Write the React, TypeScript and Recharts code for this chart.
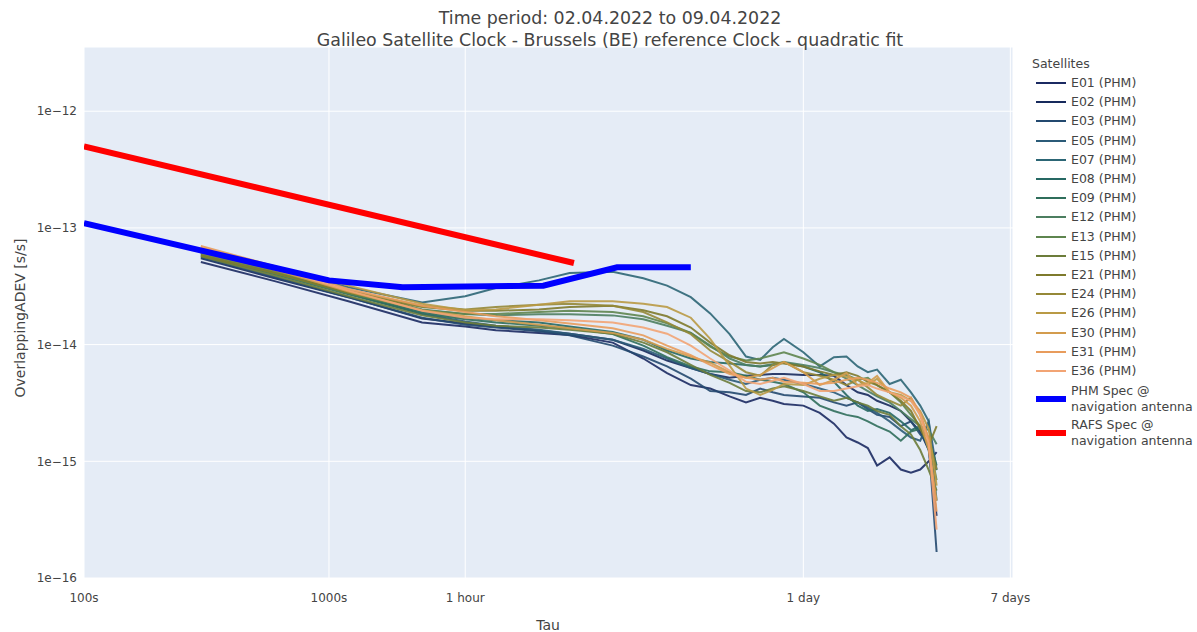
import React from 'react';
import { LineChart, Line, XAxis, YAxis, CartesianGrid } from 'recharts';

// averaging times (s) shared by all satellite curves
const TAU = [
  300, 600, 1200, 2400, 3600, 4800, 7200, 9600, 14400, 19200, 24000, 30000, 36000, 43200, 50400, 57600,
  64800, 72000, 86400, 100800, 115200, 129600, 144000, 158400, 172800, 194400, 216000, 237600, 259200,
  280800, 302400,
];

// ADEV values in units of 1e-15
const E01 = [51, 35, 23.5, 15.5, 14.3, 13.3, 12.6, 12.1, 10.4, 7.6, 5.7, 4.5, 4.2, 3.6, 3.2, 3.5, 3.3, 3.1, 3.0, 2.6, 2.1, 1.6, 1.45, 1.3, 0.92, 1.08, 0.85, 0.8, 0.85, 1.0, 1.2];
const E02 = [55, 37, 25.5, 16.7, 15.2, 14.3, 13.2, 12.4, 11, 8.9, 7.3, 6.3, 5.6, 5.2, 5.4, 5.5, 5.6, 5.6, 5.5, 5.5, 5.4, 4.5, 3.9, 3.7, 3.3, 3.0, 2.7, 2.2, 1.8, 1.25, 0.34];
const E03 = [56, 38, 25.5, 17, 14.8, 14, 13, 12, 9.8, 7.9, 6.5, 5.1, 4.0, 3.9, 3.7, 4.2, 3.9, 3.7, 3.6, 3.5, 3.2, 3.0, 3.2, 2.8, 2.5, 2.4, 2.0, 2.2, 1.7, 1.4, 0.167];
const E05 = [61, 42, 27.5, 18.3, 15.8, 14.5, 13.4, 12.4, 11, 9.2, 7.6, 6.3, 5.6, 5.0, 4.6, 5.0, 5.2, 5.0, 4.6, 4.2, 3.9, 3.5, 3.2, 2.9, 2.6, 2.2, 1.85, 1.6, 1.5, 2.2, 0.85];
const E07 = [65, 45, 31, 23, 26, 30.5, 35.5, 41, 42, 37, 32, 25.5, 18.5, 12.3, 7.9, 7.4, 9.5, 11.2, 8.6, 6.5, 7.8, 7.9, 6.5, 5.8, 6.1, 4.6, 5.0, 3.9, 3.0, 2.2, 0.46];
const E08 = [63, 42, 28, 19, 16.9, 16.2, 15.5, 14.3, 12.8, 11, 8.9, 7.6, 7.1, 6.9, 6.7, 6.5, 6.7, 7.0, 6.5, 5.8, 4.8, 3.7, 3.0, 2.7, 2.8, 2.6, 2.2, 1.85, 2.0, 1.25, 0.84];
const E09 = [58, 40, 27, 18.5, 16.5, 15.5, 14.5, 13.8, 12.3, 9.8, 7.8, 6.5, 5.9, 5.8, 5.4, 5.0, 4.8, 4.6, 3.9, 3.0, 2.7, 2.5, 2.4, 2.2, 2.0, 1.8, 1.5, 1.8, 1.9, 1.6, 0.92];
const E12 = [60, 42, 29, 20, 18.3, 17.8, 18.2, 18.2, 17.8, 16.5, 14.5, 12.6, 9.8, 7.6, 6.7, 6.5, 6.8, 7.1, 6.7, 6.3, 5.8, 5.1, 4.5, 4.0, 3.6, 3.2, 2.7, 2.3, 2.0, 1.85, 1.4];
const E13 = [59, 41, 27.5, 19.7, 18.3, 18.3, 19, 19.5, 19, 17.5, 15.2, 12.6, 9.6, 7.9, 7.3, 7.6, 8.1, 8.6, 7.6, 6.7, 5.8, 5.5, 5.0, 5.2, 4.5, 3.9, 3.2, 2.5, 2.0, 1.55, 0.69];
const E15 = [57, 39, 26, 17.8, 15.5, 14.5, 14, 13.4, 12.4, 10.4, 8.6, 6.7, 5.5, 4.7, 4.0, 3.9, 4.2, 4.4, 4.0, 3.6, 3.3, 3.5, 3.2, 3.0, 2.7, 2.5, 2.0, 1.7, 1.25, 0.84, 0.56];
const E21 = [58, 41, 28, 21, 19.5, 19.5, 20, 21, 21.5, 19.7, 17.5, 14, 10.4, 8.1, 7.1, 6.9, 7.1, 6.9, 6.5, 5.9, 5.5, 5.8, 5.4, 4.8, 4.5, 3.9, 3.3, 2.7, 1.9, 1.37, 2.0];
const E24 = [61, 43, 29, 21.5, 20, 21, 22, 22.4, 21.5, 19, 15.5, 12.3, 8.9, 7.1, 5.8, 5.4, 6.7, 7.1, 5.8, 5.4, 5.0, 4.5, 5.0, 4.3, 3.7, 3.3, 3.0, 3.5, 2.5, 1.55, 0.85];
const E26 = [68, 47, 32, 22.4, 19.7, 20, 22, 23.5, 23.5, 22.4, 21, 17, 11.2, 6.6, 4.2, 3.7, 4.1, 4.6, 4.5, 5.1, 5.5, 5.3, 5.0, 4.5, 5.1, 3.9, 3.7, 3.3, 2.7, 1.9, 0.62];
const E30 = [66, 44, 28.5, 19.7, 17.5, 16.2, 14.8, 13.8, 12.6, 11, 9.2, 7.9, 7.0, 5.8, 5.2, 5.5, 6.3, 7.1, 5.8, 4.5, 5.0, 5.7, 4.5, 4.7, 5.4, 3.9, 3.5, 3.0, 2.2, 1.25, 0.46];
const E31 = [70, 47, 30, 21.5, 19, 17.5, 16.2, 15.2, 13.8, 12, 9.8, 8.1, 6.7, 5.6, 5.2, 5.0, 5.2, 4.8, 4.7, 4.6, 4.7, 5.0, 5.2, 5.0, 4.7, 4.2, 3.9, 3.5, 2.6, 1.55, 0.37];
const E36 = [68, 45, 29, 19.5, 17, 16.5, 16.5, 16.2, 15.5, 14, 12.4, 9.8, 7.6, 6.0, 4.8, 4.6, 4.9, 5.2, 4.6, 4.0, 4.0, 4.2, 4.4, 4.5, 4.2, 3.9, 3.6, 3.3, 2.5, 1.4, 0.26];

const SATELLITES = ['E01', 'E02', 'E03', 'E05', 'E07', 'E08', 'E09', 'E12', 'E13', 'E15', 'E21', 'E24', 'E26', 'E30', 'E31', 'E36'];
const SAT_VALUES = [E01, E02, E03, E05, E07, E08, E09, E12, E13, E15, E21, E24, E26, E30, E31, E36];
const SAT_COLORS = [
  '#1b2a62', '#172a5c', '#23496f', '#2b5b78', '#2c6675', '#266863', '#2f6e5b', '#4c7e60',
  '#5e854f', '#6c7c3a', '#7e7a2c', '#958837', '#b99a45', '#d39c4e', '#e89c5c', '#f2a474',
];

// spec lines, same units
const PHM_TAU = [100, 1000, 2000, 7500, 15000, 30000];
const PHM_SPEC = [110, 35.5, 31, 32, 46, 46];
const RAFS_TAU = [100, 10000];
const RAFS_SPEC = [500, 50];

const X_TICKS = [100, 1000, 3600, 86400, 604800];
const X_TICK_LABELS = ['100s', '1000s', '1 hour', '1 day', '7 days'];
const Y_TICKS = [1e-16, 1e-15, 1e-14, 1e-13, 1e-12];
const Y_TICK_LABELS = ['1e\u221216', '1e\u221215', '1e\u221214', '1e\u221213', '1e\u221212'];

const UNIT = 1e-15;
const FONT = '"DejaVu Sans", Verdana, sans-serif';
const TEXT = '#444';

const buildRows = () => {
  const taus = Array.from(new Set([...TAU, ...PHM_TAU, ...RAFS_TAU])).sort((a, b) => a - b);
  return taus.map((tau) => {
    const row: Record<string, number> = { tau };
    const k = TAU.indexOf(tau);
    if (k >= 0) SATELLITES.forEach((name, i) => (row[name] = SAT_VALUES[i][k] * UNIT));
    const p = PHM_TAU.indexOf(tau);
    if (p >= 0) row.phm = PHM_SPEC[p] * UNIT;
    const r = RAFS_TAU.indexOf(tau);
    if (r >= 0) row.rafs = RAFS_SPEC[r] * UNIT;
    return row;
  });
};

const LegendRow = ({ y, color, width, lines }: { y: number; color: string; width: number; lines: string[] }) => (
  <div style={{ position: 'absolute', left: 1033, top: y - 10, height: 20, display: 'flex', alignItems: 'center' }}>
    <svg width={36} height={20}>
      <line x1={3} x2={33} y1={10} y2={10} stroke={color} strokeWidth={width} />
    </svg>
    <div style={{ marginLeft: 2, lineHeight: '16px', whiteSpace: 'nowrap' }}>
      {lines.map((l) => (
        <div key={l}>{l}</div>
      ))}
    </div>
  </div>
);

const App: React.FC = () => {
  const data = buildRows();

  return (
    <div style={{ position: 'absolute', left: 0, top: 0, width: 1197, height: 632, background: '#fff', fontFamily: FONT, color: TEXT, overflow: 'hidden' }}>
      <div style={{ position: 'absolute', left: 0, top: 0 }}>
        <LineChart width={1040} height={632} data={data} margin={{ top: 47, right: 27, bottom: 14, left: 0 }}>
          <CartesianGrid fill="#E5ECF6" stroke="#fff" strokeWidth={1} />
          <XAxis
            dataKey="tau"
            type="number"
            scale="log"
            domain={[100, 620000]}
            allowDataOverflow
            ticks={X_TICKS}
            tickFormatter={(v: number) => X_TICK_LABELS[X_TICKS.indexOf(v)] ?? ''}
            axisLine={false}
            tickLine={false}
            tickSize={0}
            tickMargin={15}
            height={40}
            tick={{ fill: TEXT, fontSize: 12, fontFamily: FONT }}
          />
          <YAxis
            type="number"
            scale="log"
            domain={[1e-16, 3.55e-12]}
            allowDataOverflow
            ticks={Y_TICKS}
            tickFormatter={(v: number) => Y_TICK_LABELS[Y_TICKS.findIndex((t) => Math.abs(t - v) < t * 1e-6)] ?? ''}
            axisLine={false}
            tickLine={false}
            tickSize={0}
            tickMargin={7}
            width={84}
            tick={{ fill: TEXT, fontSize: 12, fontFamily: FONT }}
          />
          {SATELLITES.map((name, i) => (
            <Line
              key={name}
              dataKey={name}
              stroke={SAT_COLORS[i]}
              strokeWidth={2}
              strokeOpacity={0.9}
              dot={false}
              connectNulls
              isAnimationActive={false}
            />
          ))}
          <Line dataKey="phm" stroke="#0000ff" strokeWidth={6} dot={false} connectNulls isAnimationActive={false} />
          <Line dataKey="rafs" stroke="#ff0000" strokeWidth={6} dot={false} connectNulls isAnimationActive={false} />
        </LineChart>
      </div>

      <div style={{ position: 'absolute', left: 0, width: 1220, top: 7, textAlign: 'center', fontSize: 17.4, lineHeight: '22px' }}>
        <div>Time period: 02.04.2022 to 09.04.2022</div>
        <div>Galileo Satellite Clock - Brussels (BE) reference Clock - quadratic fit</div>
      </div>

      <div style={{ position: 'absolute', left: 20, top: 318, transform: 'translate(-50%, -50%) rotate(-90deg)', fontSize: 14, lineHeight: '18px', whiteSpace: 'nowrap' }}>
        OverlappingADEV [s/s]
      </div>
      <div style={{ position: 'absolute', left: 548, top: 616, width: 40, marginLeft: -20, textAlign: 'center', fontSize: 14, lineHeight: '18px' }}>Tau</div>

      <div style={{ fontSize: 12.5 }}>
        <div style={{ position: 'absolute', left: 1032, top: 55, lineHeight: '18px' }}>Satellites</div>
        {SATELLITES.map((name, i) => (
          <LegendRow key={name} y={83 + 19.2 * i} color={SAT_COLORS[i]} width={2} lines={[`${name} (PHM)`]} />
        ))}
        <LegendRow y={399} color="#0000ff" width={6} lines={['PHM Spec @', 'navigation antenna']} />
        <LegendRow y={433} color="#ff0000" width={6} lines={['RAFS Spec @', 'navigation antenna']} />
      </div>
    </div>
  );
};

export default App;
